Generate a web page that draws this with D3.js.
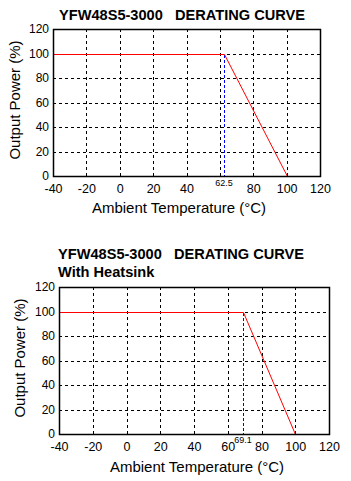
<!DOCTYPE html>
<html>
<head>
<meta charset="utf-8">
<script src="https://cdn.jsdelivr.net/npm/d3@7"></script>
<style>
body { margin: 0; background: #fff; }
svg { display: block; font-family: "Liberation Sans", Arial, sans-serif; }
.title { white-space: pre; }
</style>
</head>
<body>
<svg id="chart" width="351" height="481"></svg>
<script>
var xTicks = [-40, -20, 0, 20, 40, 60, 80, 100, 120];
var yTicks = [0, 20, 40, 60, 80, 100, 120];
var curveNoSink = [[-40, 100], [62.5, 100], [100, 0]];
var curveSink = [[-40, 100], [69.1, 100], [100, 0]];
var kneeNoSink = 62.5;
var kneeSink = 69.1;

var svg = d3.select("#chart");

function drawChart(cfg) {
    var g = svg.append("g");
    var x = d3.scaleLinear().domain([-40, 120]).range([cfg.left, cfg.right]);
    var y = d3.scaleLinear().domain([0, 120]).range([cfg.bottom, cfg.top]);
    // snap to pixel centres so 1px lines stay crisp
    var px = v => Math.round(v) + 0.5;

    // titles
    cfg.titles.forEach(function(t, i) {
        g.append("text")
            .attr("class", "title")
            .attr("x", cfg.titleX)
            .attr("y", cfg.titleY + i * 17.5)
            .attr("font-size", "14.6px")
            .attr("font-weight", "bold")
            .text(t);
    });

    // grid
    g.selectAll(".vgrid")
        .data(xTicks.slice(1, -1))
        .enter().append("line")
        .attr("x1", d => px(x(d))).attr("x2", d => px(x(d)))
        .attr("y1", cfg.top).attr("y2", cfg.bottom)
        .attr("stroke", "#000")
        .attr("shape-rendering", "crispEdges")
        .attr("stroke-dasharray", "3,3");

    g.selectAll(".hgrid")
        .data(yTicks.slice(1, -1))
        .enter().append("line")
        .attr("x1", cfg.left).attr("x2", cfg.right)
        .attr("y1", d => px(y(d))).attr("y2", d => px(y(d)))
        .attr("stroke", "#000")
        .attr("shape-rendering", "crispEdges")
        .attr("stroke-dasharray", "3,3");

    // knee marker
    g.append("line")
        .attr("x1", px(x(cfg.knee))).attr("x2", px(x(cfg.knee)))
        .attr("y1", px(y(100))).attr("y2", cfg.bottom)
        .attr("stroke", "#0000ff")
        .attr("shape-rendering", "crispEdges")
        .attr("stroke-dasharray", "3,2");

    // curve
    var line = d3.line().x(d => px(x(d[0]))).y(d => px(y(d[1])));
    g.append("path")
        .datum(cfg.curve)
        .attr("d", line)
        .attr("fill", "none")
        .attr("stroke", "#ff0000")
        .attr("stroke-width", 1);

    // frame
    g.append("rect")
        .attr("x", px(cfg.left)).attr("y", px(cfg.top))
        .attr("width", cfg.right - cfg.left)
        .attr("height", cfg.bottom - cfg.top)
        .attr("fill", "none")
        .attr("stroke", "#000")
        .attr("stroke-width", 1.5);

    // axes
    var xTickVals = xTicks.filter(d => cfg.showSixty || d !== 60);
    var xAxis = g.append("g")
        .attr("transform", "translate(0," + cfg.bottom + ")")
        .call(d3.axisBottom(x).tickValues(xTickVals).tickSize(0).tickPadding(cfg.xPad)
            .tickFormat(d => String(d)));
    xAxis.select(".domain").remove();
    xAxis.selectAll("text").attr("font-size", "12.5px").attr("fill", "#000")
        .attr("font-family", "Liberation Sans, Arial, sans-serif");

    var yAxis = g.append("g")
        .attr("transform", "translate(" + cfg.left + ",0)")
        .call(d3.axisLeft(y).tickValues(yTicks).tickSize(0).tickPadding(cfg.yPad)
            .tickFormat(d => String(d)));
    yAxis.select(".domain").remove();
    yAxis.selectAll("text").attr("font-size", "12px").attr("fill", "#000")
        .attr("font-family", "Liberation Sans, Arial, sans-serif");

    // knee label
    g.append("text")
        .attr("x", x(cfg.knee))
        .attr("y", cfg.kneeLabelY)
        .attr("text-anchor", "middle")
        .attr("font-size", "9px")
        .text(cfg.knee);

    // axis titles
    g.append("text")
        .attr("x", cfg.xTitleX)
        .attr("y", cfg.xTitleY)
        .attr("text-anchor", "middle")
        .attr("font-size", "15px")
        .text("Ambient Temperature (°C)");

    g.append("text")
        .attr("transform", "translate(" + cfg.yTitleX + "," + cfg.yTitleY + ") rotate(-90)")
        .attr("text-anchor", "middle")
        .attr("font-size", "15px")
        .text("Output Power (%)");
}

drawChart({
    left: 53, right: 320, top: 29, bottom: 176,
    titles: ["YFW48S5-3000   DERATING CURVE"], titleX: 59, titleY: 20,
    curve: curveNoSink, knee: kneeNoSink, showSixty: false,
    xPad: 8, yPad: 4, kneeLabelY: 185.5,
    xTitleX: 179, xTitleY: 213, yTitleX: 20, yTitleY: 100
});

drawChart({
    left: 59, right: 329, top: 287, bottom: 434,
    titles: ["YFW48S5-3000   DERATING CURVE", "With Heatsink"], titleX: 58, titleY: 259,
    curve: curveSink, knee: kneeSink, showSixty: true,
    xPad: 8, yPad: 4, kneeLabelY: 443,
    xTitleX: 197, xTitleY: 472, yTitleX: 25, yTitleY: 358
});
</script>
</body>
</html>
